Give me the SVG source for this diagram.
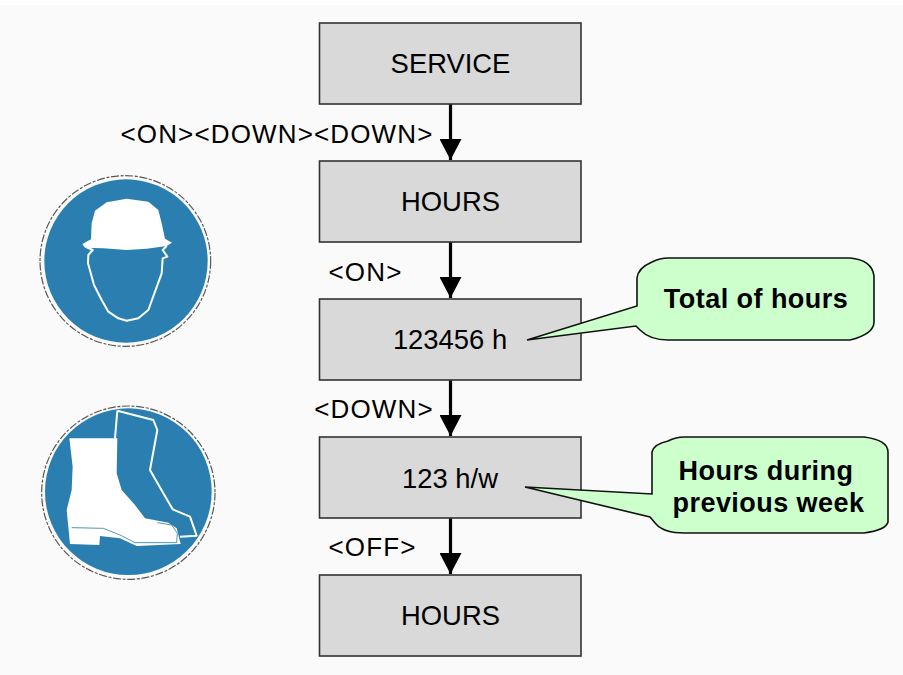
<svg xmlns="http://www.w3.org/2000/svg" width="903" height="675" viewBox="0 0 903 675">
<style>
text{font-family:"Liberation Sans",Arial,sans-serif;fill:#000;text-anchor:middle}
.box{fill:#d9d9d9;stroke:#333;stroke-width:1.6}
.t{font-size:27.400px}
.k{font-size:26px;letter-spacing:1.150px}
.n{font-size:27px;font-weight:bold;letter-spacing:.45px}
.c{fill:#ccffcc;stroke:#111;stroke-width:1.6}
.w{fill:#fff}
.l{fill:none;stroke:#fff;stroke-width:6;stroke-linejoin:round}
.ring{fill:none;stroke:#555;stroke-width:3.500;stroke-dasharray:24 5 9 5}
.conn{stroke:#000;stroke-width:3.2;fill:none;marker-end:url(#a)}
</style>
<defs><marker id="a" markerUnits="userSpaceOnUse" markerWidth="22" markerHeight="22" refX="21" refY="11" orient="auto"><path d="M0 0L21 11L0 22Z" fill="#000"/></marker></defs>
<rect width="903" height="675" fill="#fff"/>
<rect x="0" y="5" width="903" height="670" fill="#fafafa"/>
<g id="connectors">
<path class="conn" d="M450.500 104V160"/>
<path class="conn" d="M450.500 242V298"/>
<path class="conn" d="M450.500 380V436"/>
<path class="conn" d="M450.500 518V574"/>
</g>
<g id="service"><rect class="box" x="319.500" y="23" width="261.500" height="81"/><text class="t" x="450.500" y="73">SERVICE</text></g>
<g id="hours1"><rect class="box" x="319.500" y="161" width="261.500" height="81"/><text class="t" x="450.500" y="211">HOURS</text></g>
<g id="total"><rect class="box" x="319.500" y="299" width="261.500" height="81"/><text class="t" x="450" y="349">123456 h</text></g>
<g id="week"><rect class="box" x="319.500" y="437" width="261.500" height="81"/><text class="t" x="450" y="488">123 h/w</text></g>
<g id="hours2"><rect class="box" x="319.500" y="575" width="261.500" height="81"/><text class="t" x="450.500" y="625">HOURS</text></g>
<g id="labels">
<text class="k" x="277" y="143">&lt;ON&gt;&lt;DOWN&gt;&lt;DOWN&gt;</text>
<text class="k" x="365.500" y="281">&lt;ON&gt;</text>
<text class="k" x="374" y="418">&lt;DOWN&gt;</text>
<text class="k" x="372.500" y="556">&lt;OFF&gt;</text>
</g>
<g id="callout1"><path class="c" d="M527 340L637 306V278Q638 268 652 262Q660 258 668 258H850Q872 260 874 276V322Q874 334 850 340H668Q650 340 640 330L636 326Z"/><text class="n" x="756" y="308">Total of hours</text></g>
<g id="callout2"><path class="c" d="M525 487L652 494V452Q654 444 668 441Q676 437 684 437H864Q888 440 888 452V522Q886 530 864 533H684Q664 533 656 524L650 517Z"/><text class="n" x="766" y="480">Hours during</text><text class="n" x="768.500" y="512">previous week</text></g>
<g id="helmet" transform="translate(20 160) scale(.33333)">
<circle cx="318" cy="303" r="245" fill="#2a7fb0"/>
<circle class="ring" cx="316" cy="303" r="256"/>
<path class="w" d="M187 252L213 238L215 190L225 152L260 127L320 116L385 125L415 150L425 190L435 236L456 248L440 258L380 266L320 270L250 265L195 263Z"/>
<path class="l" d="M200 262L218 270L205 285L204 310L222 375L245 420L265 455L295 475L320 482L355 475L385 450L405 395L425 340L428 295L442 290L428 270L440 258"/>
</g>
<g id="boot" transform="translate(20 390) scale(.33333)">
<circle cx="325" cy="305" r="250" fill="#2a7fb0"/>
<circle class="ring" cx="325" cy="308" r="260"/>
<path class="w" d="M148 145L280 145L292 145L290 250L305 300L345 345L375 385L445 398L470 415L482 462L350 468L300 445L240 438L238 465L150 462L140 360L155 300L158 230Z"/>
<path class="l" d="M292 62L400 90L412 120L390 240L430 310L458 358L510 380L530 437L480 440"/>
<path d="M155 413L250 415L300 435L345 458L470 458L472 430L455 405L412 398" fill="none" stroke="#2a7fb0" stroke-width="2.500"/>
<path d="M292 62L285 145" fill="none" stroke="#fff" stroke-width="6"/>
</g>
</svg>
